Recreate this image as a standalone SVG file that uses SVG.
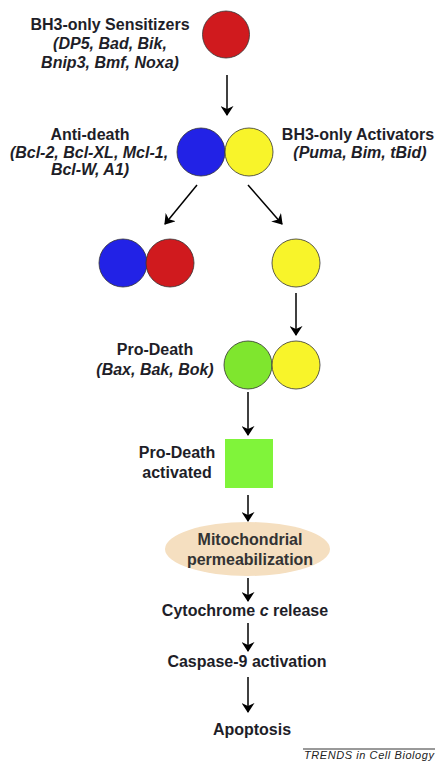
<svg xmlns="http://www.w3.org/2000/svg" width="437" height="762" viewBox="0 0 437 762">
<defs>
<marker id="ah" markerWidth="10" markerHeight="13" refX="9" refY="6.5" orient="auto" markerUnits="userSpaceOnUse">
<path d="M0,0 L10,6.5 L0,13 L3,6.5 Z" fill="#000"/>
</marker>
<style>
text{font-family:"Liberation Sans",Arial,sans-serif;font-weight:bold;font-size:16px;fill:#1e1e28;text-anchor:middle}
.it{font-style:italic}
.c{stroke:#333;stroke-width:0.8}
.ar{stroke:#000;stroke-width:1.5;fill:none;marker-end:url(#ah)}
</style>
</defs>
<rect width="437" height="762" fill="#fff"/>
<g id="sensitizers">
<circle class="c" cx="226" cy="34.5" r="23.5" fill="#d01a1e"/>
<text x="110" y="30">BH3-only Sensitizers</text>
<text class="it" x="110" y="49">(DP5, Bad, Bik,</text>
<text class="it" x="110" y="68">Bnip3, Bmf, Noxa)</text>
</g>
<g id="antideath-activators">
<circle class="c" cx="201" cy="152" r="24" fill="#2222e6"/>
<circle class="c" cx="249" cy="152" r="24" fill="#f8f42a"/>
<text x="90" y="140">Anti-death</text>
<text class="it" x="89" y="158">(Bcl-2, Bcl-XL, Mcl-1,</text>
<text class="it" x="90" y="175">Bcl-W, A1)</text>
<text x="358" y="140">BH3-only Activators</text>
<text class="it" x="360" y="158">(Puma, Bim, tBid)</text>
</g>
<g id="antideath-sensitizer">
<circle class="c" cx="123" cy="263" r="24" fill="#2222e6"/>
<circle class="c" cx="170" cy="263" r="24" fill="#d01a1e"/>
</g>
<g id="activator">
<circle class="c" cx="296" cy="263" r="24" fill="#f8f42a"/>
</g>
<g id="prodeath">
<circle class="c" cx="248" cy="365" r="24" fill="#7fe62e"/>
<circle class="c" cx="296" cy="365" r="24" fill="#f8f42a"/>
<text x="155" y="355">Pro-Death</text>
<text class="it" x="155" y="375">(Bax, Bak, Bok)</text>
</g>
<g id="prodeath-activated">
<rect x="225" y="439" width="48" height="49" fill="#80f43a"/>
<text x="177" y="458">Pro-Death</text>
<text x="177" y="478">activated</text>
</g>
<g id="mito">
<ellipse cx="247.5" cy="549" rx="82.5" ry="27" fill="#f5dfc0"/>
<text x="250" y="545" style="fill:#333">Mitochondrial</text>
<text x="250" y="565" style="fill:#333">permeabilization</text>
</g>
<g id="cytochrome">
<text x="245" y="616">Cytochrome <tspan class="it">c</tspan> release</text>
</g>
<g id="caspase">
<text x="247" y="667">Caspase-9 activation</text>
</g>
<g id="apoptosis">
<text x="252" y="735">Apoptosis</text>
</g>
<g id="connectors">
<line class="ar" x1="227" y1="75" x2="227" y2="115"/>
<line class="ar" x1="197" y1="185" x2="165" y2="224"/>
<line class="ar" x1="248" y1="185" x2="282" y2="224"/>
<line class="ar" x1="296" y1="293" x2="296" y2="335"/>
<line class="ar" x1="248" y1="392" x2="248" y2="435"/>
<line class="ar" x1="248" y1="495" x2="248" y2="521"/>
<line class="ar" x1="248" y1="578" x2="248" y2="601"/>
<line class="ar" x1="248" y1="623" x2="248" y2="651"/>
<line class="ar" x1="248" y1="677" x2="248" y2="712"/>
</g>
<g id="credit">
<line x1="303" y1="749" x2="435" y2="749" stroke="#000" stroke-width="0.8"/>
<text class="it" x="369" y="759" textLength="130" style="font-weight:normal;font-size:11px;fill:#222">TRENDS in Cell Biology</text>
</g>
</svg>
